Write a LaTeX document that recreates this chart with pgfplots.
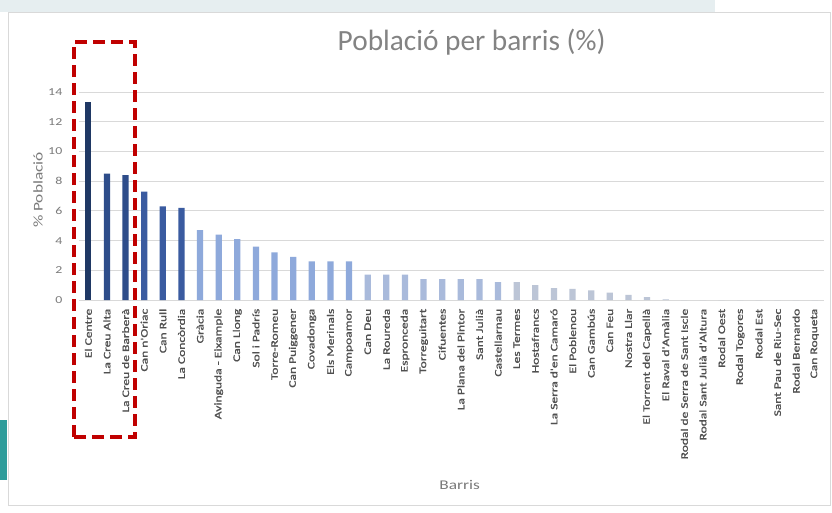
\documentclass[border=0pt]{standalone}
\usepackage{pgfplots}
\pgfplotsset{compat=1.18}
\usepackage{fontspec}
\setmainfont{Carlito}
\newfontfamily\labfont[FakeStretch=1.35, FakeBold=1.2]{Carlito}
\newfontfamily\axfont[FakeStretch=1.3]{Carlito}
\definecolor{cA}{HTML}{1F3864}
\definecolor{cB}{HTML}{2E4D8A}
\definecolor{cC}{HTML}{3A5BA0}
\definecolor{cD}{HTML}{8EA9DB}
\definecolor{cE}{HTML}{A9BADB}
\definecolor{cF}{HTML}{BCC5D6}
\definecolor{gridc}{HTML}{D9D9D9}
\definecolor{txt}{HTML}{595959}
\definecolor{ann}{HTML}{C00000}
\definecolor{bandc}{HTML}{E6EEF0}
\definecolor{tealc}{HTML}{2E9C9A}
\begin{document}
\begin{tikzpicture}
\path[use as bounding box] (0,0) rectangle (624pt,384pt);
\fill[white] (0,0) rectangle (624pt,384pt);
\fill[bandc] (0,375pt) rectangle (536pt,384pt);
\fill[tealc] (0,24pt) rectangle (5pt,69pt);
\draw[gridc] (6pt,5.25pt) rectangle (622.5pt,375pt);
\begin{axis}[
    at={(59.25pt,159pt)}, anchor=south west,
    scale only axis, width=558.75pt, height=156pt,
    ybar, bar width=4.6pt, bar shift=0pt,
    xmin=-0.5, xmax=39.5, ymin=0, ymax=14,
    ytick={0,2,...,14},
    xtick={0,...,39},
    xticklabels={El Centre, La Creu Alta, La Creu de Barberà, Can n'Oriac, Can Rull,
      La Concòrdia, Gràcia, Avinguda - Eixample, Can Llong, Sol i Padrís,
      Torre-Romeu, Can Puiggener, Covadonga, Els Merinals, Campoamor,
      Can Deu, La Roureda, Espronceda, Torreguitart, Cifuentes,
      La Plana del Pintor, Sant Julià, Castellarnau, Les Termes, Hostafrancs,
      La Serra d'en Camaró, El Poblenou, Can Gambús, Can Feu, Nostra Llar,
      El Torrent del Capellà, El Raval d'Amàlia, Rodal de Serra de Sant Iscle, Rodal Sant Julià d'Altura, Rodal Oest,
      Rodal Togores, Rodal Est, Sant Pau de Riu-Sec, Rodal Bernardo, Can Roqueta},
    x tick label style={rotate=90, anchor=east, xshift=-3pt, font=\labfont\fontsize{7.5}{8}\selectfont, text=txt!90!black},
    y tick label style={xshift=-9pt, font=\axfont\fontsize{8}{9}\selectfont, text=txt!80},
    /pgf/number format/assume math mode=true,
    major tick length=0pt,
    axis x line*=bottom, axis y line*=left,
    x axis line style={gridc, -},
    y axis line style={draw=none},
    ymajorgrids, grid style={gridc, line width=0.6pt},
    title={Població per barris (\%)},
    title style={at={(axis description cs:0.527,1.20)}, anchor=center, font=\fontsize{22}{24}\selectfont, text=txt!75},
    xlabel={Barris},
    xlabel style={at={(axis description cs:0.511,-0.89)}, anchor=center, font=\axfont\fontsize{10}{11}\selectfont, text=txt!80},
    clip=false,
]
\addplot[fill=cA, draw=none] coordinates {(0,13.3)};
\addplot[fill=cB, draw=none] coordinates {(1,8.5) (2,8.4)};
\addplot[fill=cC, draw=none] coordinates {(3,7.3) (4,6.3) (5,6.2)};
\addplot[fill=cD, draw=none] coordinates {(6,4.7) (7,4.4) (8,4.1) (9,3.6) (10,3.2) (11,2.9) (12,2.6) (13,2.6) (14,2.6)};
\addplot[fill=cE, draw=none] coordinates {(15,1.7) (16,1.7) (17,1.7) (18,1.4) (19,1.4) (20,1.4) (21,1.4) (22,1.2)};
\addplot[fill=cF, draw=none] coordinates {(23,1.2) (24,1.0) (25,0.8) (26,0.75) (27,0.65) (28,0.5) (29,0.35) (30,0.2) (31,0.05)
  (32,0) (33,0) (34,0) (35,0) (36,0) (37,0) (38,0) (39,0)};
\end{axis}
\node[rotate=90, font=\axfont\fontsize{10}{11}\selectfont, text=txt!80] at (28.5pt,241.5pt) {\% Població};
\draw[ann, line width=2.3pt, dash pattern=on 9pt off 4.5pt] (55.5pt,56.25pt) rectangle (101.25pt,352.5pt);
\end{tikzpicture}
\end{document}
